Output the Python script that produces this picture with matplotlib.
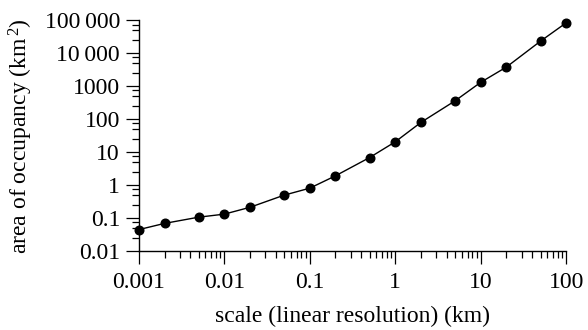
import matplotlib.pyplot as plt
from matplotlib.ticker import LogLocator, FixedLocator, NullFormatter

plt.rcParams['font.family'] = ['Liberation Serif', 'DejaVu Serif']
plt.rcParams['mathtext.fontset'] = 'custom'
plt.rcParams['mathtext.rm'] = 'Liberation Serif'
plt.rcParams['mathtext.it'] = 'Liberation Serif'

# data
scale_km = [0.001, 0.002, 0.005, 0.01, 0.02, 0.05, 0.1, 0.2, 0.5,
            1, 2, 5, 10, 20, 50, 100]
area_km2 = [0.044, 0.068, 0.105, 0.13, 0.21, 0.49, 0.8, 1.9, 6.8,
            20.5, 80, 360, 1320, 3850, 23500, 85000]

x_ticks = [0.001, 0.01, 0.1, 1, 10, 100]
x_labels = ['0.001', '0.01', '0.1', '1', '10', '100']
y_ticks = [0.01, 0.1, 1, 10, 100, 1000, 10000, 100000]
y_labels = ['0.01', '0.1', '1', '10', '100', '1000', '10\u2009000', '100\u2009000']

fig = plt.figure(figsize=(5.88, 3.30), dpi=100)
ax = fig.add_axes([0.236, 0.240, 0.727, 0.698])

ax.plot(scale_km, area_km2, color='black', lw=1.0, marker='o',
        markersize=6.2, clip_on=False, zorder=3)

ax.set_xscale('log')
ax.set_yscale('log')
ax.set_xlim(0.001, 100)
ax.set_ylim(0.01, 100000)

ax.set_xticks(x_ticks)
ax.set_xticklabels(x_labels)
ax.set_yticks(y_ticks)
ax.set_yticklabels(y_labels)
ax.xaxis.set_minor_locator(LogLocator(base=10, subs=[2, 3, 4, 5, 6, 7, 8, 9], numticks=20))
ax.xaxis.set_minor_formatter(NullFormatter())
y_minor = [d * s for d in y_ticks[:-1] for s in (2.5, 5, 7.5)]
ax.yaxis.set_minor_locator(FixedLocator(y_minor))
ax.yaxis.set_minor_formatter(NullFormatter())

for s in ['top', 'right']:
    ax.spines[s].set_visible(False)
for s in ['left', 'bottom']:
    ax.spines[s].set_linewidth(1.0)

ax.tick_params(axis='x', which='major', direction='out', length=9.5, width=0.9,
               labelsize=17, pad=6)
ax.tick_params(axis='y', which='major', direction='out', length=9.5, width=0.9,
               labelsize=17, pad=4)
ax.tick_params(which='minor', direction='out', length=5, width=0.9)

ax.set_xlabel('scale (linear resolution) (km)', fontsize=17, labelpad=9)
ax.set_ylabel('area of occupancy (km$^{\\,2}$)', fontsize=17, labelpad=7)

fig.savefig('out.png', dpi=100)
